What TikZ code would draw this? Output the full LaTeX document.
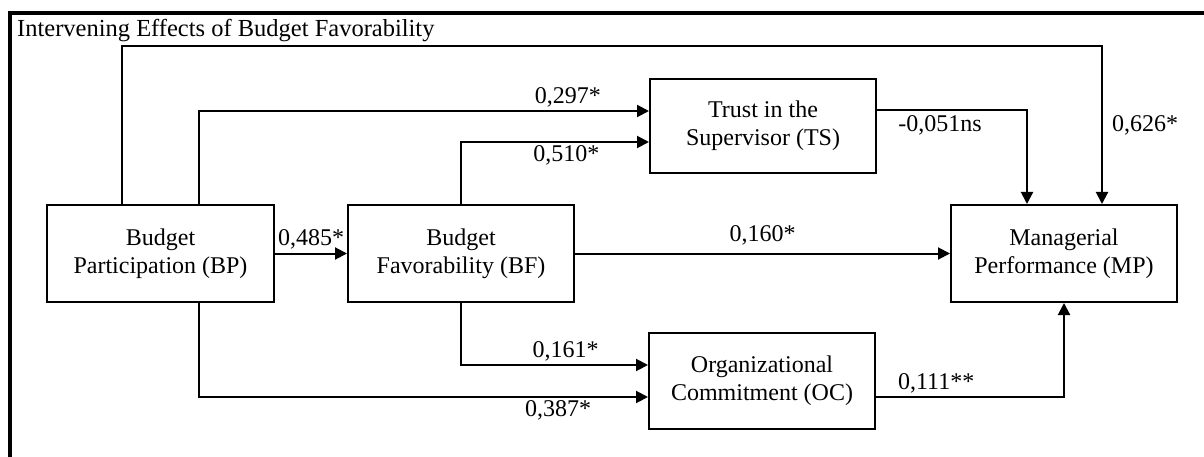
\documentclass[tikz,border=0pt]{standalone}
\usepackage{fontspec}
\setmainfont{Liberation Serif}
\usetikzlibrary{arrows.meta,positioning}

\tikzset{
  varbox/.style={draw, line width=2pt, align=center, inner sep=0pt,
    minimum width=226pt, minimum height=97pt, font=\fontsize{24}{28}\selectfont},
  path/.style={line width=2pt, -{Triangle[length=12pt,width=12pt]}},
  coef/.style={font=\fontsize{24}{28}\selectfont, inner sep=3pt}
}

\begin{document}
\begin{tikzpicture}[x=1pt,y=-1pt]
  \clip (0,0) rectangle (1204,457);
  % outer frame, cut off at right and bottom
  \draw[line width=3.5pt] (1220,13) -- (10,13) -- (10,470);
  \node[anchor=west, inner sep=0pt, font=\fontsize{24.5}{28}\selectfont] (title) at (17,31)
    {Intervening Effects of Budget Favorability};

  % variables
  \node[varbox, minimum width=227pt] (BP) at (160.5,253.5) {Budget\\Participation (BP)};
  \node[varbox] (BF) at (461,253.5) {Budget\\Favorability (BF)};
  \node[varbox] (MP) at (1064,253.5) {Managerial\\Performance (MP)};
  \node[varbox, minimum height=94pt] (TS) at (763,126) {Trust in the\\Supervisor (TS)};
  \node[varbox, minimum height=96pt] (OC) at (762,381) {Organizational\\Commitment (OC)};

  % paths
  \draw[path] ([xshift=76pt]BP.north west) -- ++(0,-158) -| ([xshift=38pt]MP.north)
    node[coef, pos=0.75, right=6pt] {0,626*};
  \draw[path] ([xshift=38pt]BP.north) |- ([yshift=15pt]TS.west)
    node[coef, pos=0.91, above] {0,297*};
  \draw[path] (BF.north) |- ([yshift=-16pt]TS.west)
    node[coef, pos=0.78, below] {0,510*};
  \draw[path] ([yshift=16pt]TS.east) -| ([xshift=-37pt]MP.north)
    node[coef, pos=0.21, below=2pt] {-0,051ns};
  \draw[path] (BP.east) -- (BF.west) node[coef, midway, above] {0,485*};
  \draw[path] (BF.east) -- (MP.west) node[coef, midway, above=4pt] {0,160*};
  \draw[path] (BF.south) |- ([yshift=16pt]OC.west)
    node[coef, pos=0.78, above] {0,161*};
  \draw[path] ([xshift=38pt]BP.south) |- ([yshift=-16pt]OC.west)
    node[coef, pos=0.9, below] {0,387*};
  \draw[path] ([yshift=-16pt]OC.east) -| (MP.south)
    node[coef, pos=0.16, above] {0,111**};
\end{tikzpicture}
\end{document}
